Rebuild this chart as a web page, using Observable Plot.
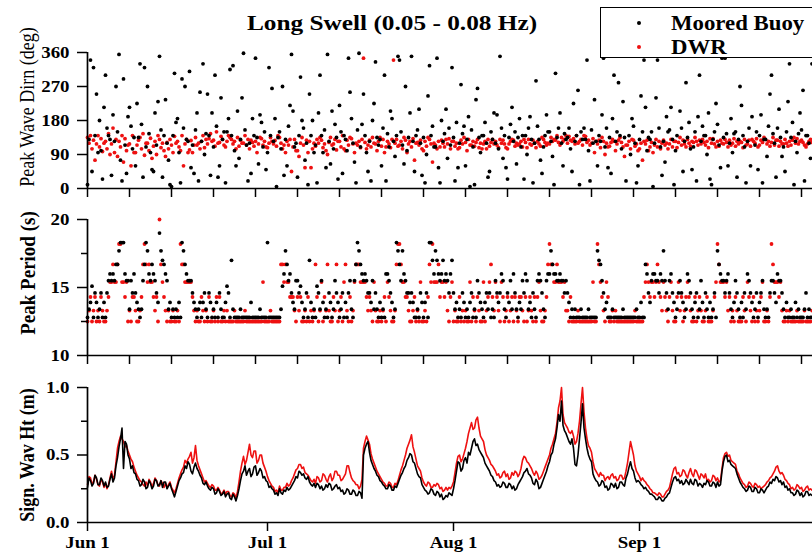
<!DOCTYPE html>
<html>
<head>
<meta charset="utf-8">
<script src="https://cdn.jsdelivr.net/npm/d3@7"></script>
<script src="https://cdn.jsdelivr.net/npm/@observablehq/plot@0.6"></script>
<style>
  html, body { margin: 0; padding: 0; background: #fff; }
  #wrap { position: relative; width: 812px; height: 555px; overflow: hidden; background: #fff;
          font-family: "Liberation Serif", "Times New Roman", serif; color: #000; }
  #wrap svg { position: absolute; left: 0; top: 0; }
  .txt { position: absolute; white-space: nowrap; line-height: 1; }
</style>
</head>
<body>
<div id="wrap"></div>
<script>
// ---------------- DATA ----------------
const START = Date.UTC(2013, 5, 1);          // Jun 1
const X_END = Date.UTC(2013, 8, 29, 20);     // right edge of the visible plot
const titleText = "Long Swell (0.05 - 0.08 Hz)";
const seriesNames = ["Moored Buoy", "DWR"];
const seriesColors = ["#000000", "#ee1111"];
const monthTicks = ["2013-06-01", "2013-07-01", "2013-08-01", "2013-09-01"];
const monthLabels = ["Jun 1", "Jul 1", "Aug 1", "Sep 1"];
const weekTickCount = 18;                     // unlabelled weekly ticks from Jun 1
const yTitles = ["Peak Wave Dirn (deg)", "Peak Period (s)", "Sign. Wav Ht (m)"];
const dirTicks = [0, 90, 180, 270, 360];
const perTicks = [10, 15, 20];
const perMinorTicks = [12.5, 17.5];
const hsTicks = [0, 0.5, 1.0];
const hsMinorTicks = [0.25, 0.75];

const dirStepHours = 6;
const perStepHours = 6;
const hsStepHours = 6;

// Peak wave direction (deg), Moored Buoy
const dirBuoy = [
10,130,340,45, 320,140,250,95, 180,100,25,215, 300,160,140,130, 35,195,125,270,
150,355,75,20, 290,115,40,190, 215,165,105,135, 60,225,135,330, 170,30,320,110,
270,145,95,50, 45,200,115,230, 350,155,30,140, 235,120,75,10, 5,140,305,175,
185,95,15,290, 160,270,130,125, 310,55,115,40, 155,200,20,255, 125,330,90,145,
250,140,35,200, 110,300,165,30, 60,240,130,150, 15,150,185,315, 140,325,100,60,
205,80,130,240, 358,155,115,20, 120,40,185,140, 345,135,65,195, 175,110,150,50,
95,320,140,265, 125,185,5,135, 150,105,270,35, 130,60,165,220, 355,205,110,120,
30,140,295,180, 160,75,120,10, 250,140,180,95, 115,15,200,300, 140,95,155,55,
355,125,65,205, 105,170,135,25, 220,150,40,140, 130,100,345,255, 185,120,70,15,
155,358,110,170, 250,140,95,45, 125,20,180,225, 335,135,115,130, 60,160,300,20,
145,110,205,185, 125,85,140,350, 340,150,115,65, 270,100,135,200, 350,125,45,140,
155,210,120,35, 135,15,90,245, 325,140,165,110, 110,345,55,15, 180,125,145,210,
80,160,115,320, 135,20,175,55, 120,275,145,165, 60,130,190,5, 155,110,10,235,
265,135,95,140, 140,175,120,30, 45,150,130,200, 120,195,105,350, 160,80,140,55,
25,135,170,215, 125,150,65,135, 185,110,140,25, 140,90,160,190, 130,15,120,285,
165,130,75,40, 110,140,195,150, 150,125,85,10, 305,135,160,200, 120,60,145,130,
135,160,105,45, 225,125,140,260, 10,150,130,160, 130,340,100,20, 155,120,235,125,
60,140,125,195, 345,110,160,55, 135,40,185,300, 125,150,280,140, 105,230,135,20,
355,140,90,185, 165,120,15,60, 130,245,150,340, 215,100,135,130, 150,5,120,240,
340,160,110,35, 125,70,190,150, 155,215,130,10, 100,140,355,205, 160,45,125,280,
135,175,105,50, 110,150,20,190, 300,125,165,140, 140,90,200,25, 10,130,150,225,
170,115,55,345, 135,345,145,60, 120,185,95,145, 150,30,130,270, 220,140,110,15,
125,160,60,190, 355,115,150,50, 140,195,15,130, 130,85,165,250, 300,145,120,30,
160,210,135,85, 110,45,150,230, 330,135,175,10, 125,95,145,200, 155,260,20,140,
140,120,80,330
];

// Peak wave direction (deg), DWR
const dirDWR = [
135,120,140,105, 128,75,118,140, 110,132,98,120, 125,105,145,90, 118,160,95,130,
85,125,110,140, 70,132,100,115, 118,60,140,95, 95,115,128,135, 105,145,88,120,
120,100,133,80, 112,125,90,140, 130,108,120,100, 85,122,105,130, 115,95,138,120,
125,110,100,140, 60,118,130,95, 102,127,95,115, 135,115,120,105, 125,140,108,130,
118,132,145,125, 128,112,150,120, 122,138,130,115, 110,125,140,135, 130,118,125,105,
135,112,128,120, 120,140,115,130, 105,128,122,112, 125,95,118,135, 132,115,125,110,
108,120,135,125, 118,127,112,140, 135,120,105,115, 95,125,115,130, 45,110,130,100,
100,85,120,135, 115,55,128,95, 125,55,105,120, 112,130,120,135, 128,108,118,100,
90,122,135,115, 118,130,102,125, 125,110,140,105, 100,128,115,135, 132,118,95,120,
115,125,108,130, 345,122,105,115, 128,110,135,120, 118,100,125,135, 112,130,95,110,
125,118,108,130, 340,120,130,112, 115,125,105,135, 128,95,118,125, 110,132,75,120,
122,115,128,105, 100,125,112,135, 130,118,70,120, 115,105,125,110, 128,120,110,130,
118,132,105,125, 125,112,120,105, 108,128,118,135, 122,100,130,115, 115,125,112,122,
130,108,120,105, 118,125,105,130, 112,122,130,118, 125,115,108,130, 120,128,118,108,
105,118,125,130, 128,112,120,115, 118,125,110,130, 122,108,130,118, 115,128,120,108,
125,118,112,135, 130,122,115,120, 118,135,125,130, 128,140,122,115, 135,125,130,140,
120,138,128,125, 132,118,140,120, 125,130,115,140, 138,122,128,115, 120,132,95,125,
118,128,108,135, 125,90,120,110, 112,122,130,125, 100,118,128,135, 122,110,85,115,
115,125,105,130, 128,112,118,100, 105,120,75,125, 118,128,100,110, 122,95,115,130,
110,125,105,120, 128,115,120,105, 118,130,110,125, 125,108,122,135, 115,128,118,110,
130,120,112,125, 122,135,125,115, 128,118,130,122, 115,125,108,132, 120,132,118,110,
125,112,128,120, 118,130,122,110, 128,115,120,132, 112,125,118,125, 122,108,130,115,
118,128,112,130, 125,120,132,110, 115,128,122,135, 130,118,125,112, 122,135,115,128,
128,112,125,118, 118,130,120,112, 125,115,128,135, 120,132,118,125, 128,122,115,110,
118,125,130,122
];

// Peak period (s), Moored Buoy
const perBuoy = [
12.8,13.4,13.9,15.1, 12.8,14.6,13.9,12.8, 13.4,14.6,12.8,13.9, 12.8,14.6,15.5,16.0,
15.5,16.0,15.5,16.7, 16.7,17.7,18.3,18.3, 18.3,16.0,15.5,15.5, 13.4,15.5,14.6,16.0,
14.6,13.9,13.4,12.8, 13.4,15.5,16.7,18.3, 17.7,16.0,15.5,16.7, 16.0,15.5,14.6,13.9,
19.0,17.7,17.0,16.7, 16.0,15.5,13.4,13.9, 12.8,13.4,12.8,13.4, 12.8,13.9,12.8,18.3,
17.7,16.7,16.0,15.5, 15.5,15.5,14.6,13.9, 13.4,12.8,13.4,13.9, 12.8,13.9,14.6,13.4,
12.8,14.6,13.9,12.8, 13.4,12.8,13.9,12.8, 14.6,13.4,12.8,12.8, 13.9,15.1,14.6,12.8,
17.0,13.4,12.8,12.8, 12.8,12.8,13.4,12.8, 12.8,12.8,12.8,12.8, 12.8,13.9,12.8,12.8,
12.8,12.8,12.8,13.4, 12.8,12.8,12.8,12.8, 18.3,12.8,12.8,12.8, 12.8,12.8,12.8,12.8,
12.8,13.4,15.1,16.0, 17.7,16.7,15.5,16.0, 14.6,13.9,13.4,15.5, 15.5,14.6,15.1,13.9,
12.8,13.4,14.6,12.8, 17.0,13.9,12.8,13.4, 12.8,15.1,14.6,13.4, 15.5,13.9,12.8,13.4,
12.8,14.6,13.9,12.8, 13.4,15.5,14.6,13.9, 12.8,13.4,14.6,12.8, 13.9,12.8,14.6,15.5,
13.4,12.8,15.5,16.7, 18.3,17.7,16.7,16.0, 15.5,16.0,15.5,14.6, 14.6,13.9,15.5,13.4,
14.6,13.4,12.8,13.9, 12.8,13.4,12.8,16.0, 16.0,15.5,14.6,13.9, 12.8,13.4,18.3,17.7,
16.7,15.5,17.7,16.0, 15.5,14.6,14.6,13.9, 14.6,13.9,12.8,12.8, 13.4,12.8,14.6,13.9,
12.8,13.9,14.6,12.8, 18.3,18.3,17.0,16.0, 17.7,17.0,16.0,15.5, 16.0,17.0,15.5,16.0,
15.5,14.6,16.0,17.0, 14.6,13.4,13.9,12.8, 13.4,12.8,14.6,13.9, 12.8,13.4,12.8,13.9,
14.6,12.8,13.4,12.8, 15.5,14.6,13.9,13.4, 12.8,13.9,14.6,13.4, 14.6,12.8,13.4,12.8,
15.5,14.6,13.9,14.6, 16.0,15.5,13.4,12.8, 14.6,13.9,15.5,13.4, 16.0,14.6,13.4,12.8,
13.9,13.4,15.5,14.6, 16.0,15.5,13.4,13.9, 12.8,14.6,13.4,12.8, 15.5,16.0,15.5,14.6,
13.4,12.8,15.5,16.0, 16.0,17.7,16.7,16.0, 16.0,15.5,15.5,16.0, 15.5,15.5,14.6,15.5,
14.6,13.9,12.8,13.4, 12.8,13.4,12.8,12.8, 12.8,13.4,12.8,12.8, 12.8,12.8,13.4,12.8,
12.8,12.8,12.8,12.8, 17.7,17.0,16.7,15.5, 14.6,13.4,13.9,12.8, 12.8,12.8,13.4,12.8,
12.8,12.8,12.8,12.8, 12.8,13.4,12.8,12.8, 12.8,12.8,12.8,12.8, 12.8,12.8,13.4,12.8,
12.8,13.9,12.8,12.8, 16.7,16.0,14.6,13.9, 15.5,16.0,16.0,15.5, 15.5,14.6,16.0,15.5,
17.7,15.5,14.6,13.4, 15.5,16.0,14.6,13.9, 12.8,13.4,14.6,15.5, 14.6,13.9,12.8,13.4,
16.0,15.5,14.6,13.4, 12.8,13.9,14.6,12.8, 13.4,15.5,13.9,12.8, 14.6,13.4,12.8,13.9,
12.8,13.4,14.6,12.8, 17.7,16.7,16.0,15.5, 15.5,14.6,15.5,16.0, 14.6,13.4,12.8,13.9,
15.5,14.6,13.4,12.8, 13.9,12.8,14.6,13.4, 16.0,15.5,14.6,13.9, 12.8,13.4,14.6,12.8,
13.9,14.6,15.5,13.4, 12.8,13.4,12.8,14.6, 15.5,15.5,14.6,13.9, 16.0,15.5,15.5,14.6,
13.4,12.8,13.9,12.8, 12.8,13.4,12.8,12.8, 13.9,12.8,13.4,12.8, 12.8,12.8,13.4,14.6,
12.8,13.4,12.8,12.8
];

// Peak period (s), DWR
const perDWR = [
12.5,13.3,14.3,12.5, 13.3,14.3,12.5,13.3, 12.5,14.3,13.3,12.5, 12.5,13.3,14.3,15.4,
15.4,16.7,15.4,15.4, 16.7,18.2,18.2,15.4, 15.4,14.3,15.4,12.5, 13.3,12.5,14.3,14.3,
13.3,12.5,12.5,13.3, 14.3,16.7,18.2,16.7, 15.4,16.7,15.4,15.4, 14.3,13.3,14.3,12.5,
20.0,16.7,15.4,14.3, 13.3,12.5,13.3,12.5, 12.5,13.3,12.5,12.5, 13.3,12.5,18.2,16.7,
16.7,15.4,15.4,15.4, 15.4,15.4,14.3,13.3, 12.5,13.3,12.5,12.5, 14.3,13.3,12.5,13.3,
12.5,14.3,12.5,12.5, 13.3,12.5,14.3,12.5, 14.3,12.5,12.5,13.3, 12.5,13.3,12.5,12.5,
12.5,12.5,13.3,12.5, 12.5,12.5,12.5,12.5, 12.5,13.3,12.5,12.5, 12.5,12.5,12.5,12.5,
12.5,12.5,12.5,12.5, 12.5,15.4,12.5,12.5, 12.5,12.5,13.3,12.5, 12.5,12.5,12.5,12.5,
12.5,16.7,16.7,15.4, 16.7,15.4,15.4,14.3, 14.3,14.3,13.3,12.5, 14.3,13.3,14.3,12.5,
12.5,13.3,12.5,14.3, 12.5,13.3,12.5,13.3, 16.7,14.3,12.5,13.3, 15.4,12.5,14.3,13.3,
16.7,13.3,12.5,12.5, 14.3,13.3,16.7,12.5, 13.3,14.3,12.5,15.4, 16.7,13.3,12.5,14.3,
12.5,13.3,15.4,16.7, 16.7,16.7,15.4,15.4, 15.4,15.4,14.3,13.3, 14.3,13.3,12.5,15.4,
13.3,12.5,12.5,13.3, 12.5,13.3,14.3,12.5, 15.4,14.3,13.3,12.5, 12.5,13.3,16.7,18.2,
18.2,16.7,15.4,15.4, 14.3,14.3,13.3,12.5, 12.5,13.3,14.3,12.5, 13.3,12.5,15.4,12.5,
12.5,13.3,12.5,14.3, 16.7,15.4,18.2,15.4, 15.4,15.4,16.7,14.3, 15.4,15.4,14.3,15.4,
13.3,12.5,14.3,15.4, 12.5,13.3,12.5,12.5, 14.3,12.5,13.3,12.5, 13.3,12.5,12.5,15.4,
12.5,14.3,13.3,12.5, 14.3,13.3,12.5,12.5, 15.4,12.5,13.3,14.3, 15.4,16.7,14.3,13.3,
15.4,14.3,13.3,12.5, 15.4,14.3,12.5,13.3, 14.3,12.5,13.3,14.3, 12.5,14.3,13.3,12.5,
14.3,14.3,13.3,12.5, 14.3,12.5,13.3,14.3, 13.3,12.5,14.3,12.5, 14.3,15.4,13.3,12.5,
12.5,13.3,14.3,16.7, 18.2,16.7,16.7,15.4, 15.4,16.7,15.4,15.4, 15.4,14.3,15.4,13.3,
13.3,12.5,14.3,12.5, 12.5,12.5,12.5,13.3, 12.5,12.5,12.5,12.5, 12.5,12.5,12.5,12.5,
12.5,15.4,12.5,12.5, 18.2,16.7,15.4,14.3, 13.3,12.5,15.4,14.3, 12.5,12.5,13.3,12.5,
13.3,12.5,12.5,12.5, 12.5,12.5,12.5,12.5, 12.5,12.5,12.5,12.5, 12.5,13.3,12.5,12.5,
12.5,12.5,12.5,14.3, 15.4,16.7,15.4,14.3, 15.4,15.4,14.3,15.4, 16.7,15.4,14.3,13.3,
15.4,14.3,13.3,12.5, 14.3,15.4,13.3,12.5, 12.5,14.3,15.4,13.3, 14.3,12.5,13.3,14.3,
15.4,14.3,13.3,12.5, 12.5,14.3,12.5,13.3, 14.3,13.3,12.5,12.5, 13.3,14.3,12.5,12.5,
12.5,13.3,14.3,15.4, 18.2,16.7,15.4,15.4, 15.4,14.3,15.4,13.3, 14.3,12.5,13.3,12.5,
14.3,13.3,12.5,12.5, 12.5,14.3,13.3,12.5, 15.4,14.3,13.3,12.5, 14.3,12.5,13.3,12.5,
13.3,14.3,15.4,12.5, 12.5,13.3,12.5,14.3, 18.2,16.7,15.4,15.4, 15.4,14.3,15.4,13.3,
12.5,12.5,13.3,12.5, 13.3,12.5,12.5,12.5, 12.5,13.3,12.5,12.5, 12.5,12.5,13.3,12.5,
12.5,12.5,12.5,13.3
];

// Significant wave height (m), Moored Buoy
const hsBuoy = [
.26,.33,.31,.27, .29,.35,.33,.28, .28,.33,.31,.27, .30,.26,.27,.32, .36,.30,.33,.42,
.48,.56,.62,.70, .40,.60,.58,.50, .47,.40,.42,.37, .36,.32,.31,.27, .28,.32,.30,.25,
.26,.31,.29,.25, .27,.32,.31,.27, .28,.31,.26,.30, .30,.25,.27,.29, .25,.22,.19,.23,
.27,.31,.33,.36, .37,.42,.40,.45, .43,.38,.36,.41, .44,.40,.38,.35, .33,.29,.28,.30,
.27,.25,.24,.26, .25,.21,.22,.25, .23,.20,.21,.23, .19,.21,.22,.18, .17,.21,.19,.16,
.20,.25,.31,.36, .38,.42,.35,.38, .40,.34,.36,.41, .42,.35,.37,.40, .38,.33,.34,.31,
.30,.26,.27,.25, .24,.21,.22,.20, .25,.22,.21,.24, .23,.26,.24,.25, .27,.29,.31,.34,
.33,.38,.37,.35, .36,.33,.32,.34, .30,.28,.27,.29, .26,.29,.28,.25, .27,.24,.25,.28,
.26,.29,.28,.24, .25,.27,.28,.25, .26,.23,.24,.21, .22,.25,.24,.21, .21,.24,.23,.20,
.20,.23,.22,.18, .50,.55,.58,.60, .52,.46,.43,.40, .38,.35,.34,.31, .30,.28,.27,.25,
.25,.28,.27,.24, .24,.27,.26,.29, .32,.35,.37,.40, .42,.46,.48,.51, .50,.45,.44,.40,
.36,.34,.33,.28, .26,.24,.23,.21, .22,.25,.24,.21, .20,.23,.22,.19, .21,.17,.18,.20,
.19,.22,.21,.20, .25,.31,.38,.45, .44,.38,.40,.46, .48,.44,.52,.50, .55,.60,.62,.57,
.58,.54,.52,.50, .48,.44,.42,.40, .38,.35,.34,.31, .30,.27,.28,.26, .27,.30,.29,.26,
.26,.29,.28,.25, .27,.24,.25,.28, .30,.32,.34,.37, .38,.40,.36,.35, .33,.29,.28,.32,
.30,.25,.26,.29, .32,.35,.38,.42, .45,.50,.52,.58, .62,.70,.80,.75, .90,.72,.68,.66,
.63,.60,.58,.62, .55,.43,.42,.50, .62,.74,.88,.70, .62,.55,.50,.47, .45,.36,.33,.31,
.30,.27,.28,.31, .30,.26,.27,.24, .25,.29,.28,.26, .29,.25,.26,.30, .30,.28,.27,.33,
.36,.41,.45,.40, .38,.33,.30,.31, .30,.28,.27,.25, .26,.24,.23,.21, .21,.20,.19,.17,
.17,.19,.18,.16, .16,.18,.19,.21, .22,.26,.30,.33, .34,.31,.32,.29, .31,.28,.29,.32,
.30,.28,.32,.29, .28,.32,.31,.27, .29,.28,.26,.29, .28,.31,.30,.27, .27,.30,.29,.26,
.30,.27,.28,.38, .45,.49,.50,.45, .46,.43,.42,.41, .40,.36,.33,.30, .28,.26,.25,.23,
.24,.27,.26,.23, .23,.26,.25,.22, .22,.25,.24,.22, .24,.26,.27,.30, .29,.32,.31,.34,
.33,.30,.31,.28, .30,.26,.27,.24, .25,.22,.22,.20, .21,.24,.23,.20, .22,.19,.20,.23,
.23,.20,.21,.20
];

// Significant wave height (m), DWR
const hsDWR = [
.28,.34,.33,.29, .30,.35,.32,.28, .27,.32,.30,.26, .29,.25,.28,.33, .38,.32,.35,.45,
.55,.60,.64,.62, .60,.56,.57,.53, .50,.47,.45,.41, .38,.35,.33,.31, .30,.28,.27,.30,
.27,.32,.30,.26, .29,.33,.31,.28, .27,.31,.29,.26, .29,.26,.28,.30, .26,.24,.22,.25,
.29,.33,.36,.39, .41,.46,.44,.47, .49,.52,.44,.48, .57,.46,.42,.39, .36,.33,.30,.31,
.29,.27,.26,.28, .27,.24,.24,.26, .24,.21,.22,.24, .21,.23,.23,.20, .19,.22,.21,.18,
.23,.30,.38,.44, .49,.43,.46,.52, .58,.50,.48,.53, .53,.44,.46,.50, .50,.44,.41,.38,
.34,.31,.29,.27, .26,.23,.24,.22, .27,.24,.24,.26, .26,.29,.27,.28, .31,.33,.36,.39,
.40,.43,.43,.40, .41,.37,.36,.35, .33,.31,.30,.32, .29,.34,.33,.30, .31,.36,.35,.32,
.30,.34,.36,.31, .33,.38,.38,.35, .35,.31,.32,.34, .36,.42,.42,.37, .33,.31,.30,.28,
.28,.25,.27,.32, .55,.60,.64,.61, .58,.51,.47,.44, .41,.38,.36,.34, .32,.30,.29,.27,
.27,.30,.29,.26, .26,.29,.28,.31, .35,.39,.42,.46, .50,.55,.58,.61, .65,.56,.52,.47,
.42,.40,.38,.33, .30,.28,.27,.30, .29,.26,.26,.28, .27,.29,.28,.25, .26,.23,.24,.26,
.24,.26,.25,.27, .30,.37,.44,.49, .50,.45,.47,.51, .55,.60,.66,.70, .74,.69,.70,.76,
.78,.70,.64,.62, .60,.54,.50,.48, .46,.43,.42,.40, .38,.35,.36,.33, .34,.37,.38,.34,
.36,.32,.33,.37, .35,.38,.37,.34, .36,.40,.46,.49, .48,.45,.44,.42, .40,.37,.35,.38,
.36,.32,.33,.35, .38,.41,.44,.47, .50,.55,.58,.62, .66,.74,.85,.90, 1.00,.80,.74,.72,
.70,.67,.66,.68, .64,.58,.60,.66, .75,.88,1.00,.82, .70,.62,.57,.55, .52,.45,.40,.38,
.36,.34,.37,.35, .35,.31,.33,.34, .32,.35,.36,.33, .34,.31,.32,.35, .35,.32,.33,.38,
.44,.52,.60,.55, .50,.42,.38,.36, .34,.31,.33,.31, .30,.28,.27,.25, .24,.22,.22,.21,
.20,.22,.21,.19, .19,.21,.23,.24, .26,.31,.36,.40, .41,.36,.37,.34, .35,.39,.38,.35,
.33,.37,.40,.36, .34,.39,.38,.35, .32,.36,.35,.33, .36,.31,.32,.30, .31,.35,.34,.31,
.33,.30,.31,.40, .48,.51,.52,.49, .50,.46,.45,.44, .43,.38,.36,.33, .31,.29,.28,.26,
.27,.30,.29,.27, .26,.29,.28,.26, .27,.25,.26,.27, .28,.30,.31,.33, .34,.36,.38,.41,
.42,.38,.36,.37, .35,.32,.31,.29, .28,.25,.26,.24, .25,.28,.27,.25, .26,.23,.24,.26,
.27,.24,.25,.24
];

// ---------------- BUILD ----------------
const HOUR = 3600000;
const rows = (vals, stepH) => vals.map((v, i) => ({ t: new Date(START + i * stepH * HOUR), v }));
const xDomain = [new Date(START), new Date(X_END)];
const weekTicks = Array.from({ length: weekTickCount }, (_, k) => d3.utcDay.offset(new Date(START), 7 * k));
const monthTickDates = monthTicks.map(s => new Date(s + "T00:00:00Z"));
const monthLabelOf = new Map(monthTickDates.map((d, i) => [+d, monthLabels[i]]));
const FONT = '"Liberation Serif", "Times New Roman", serif';
const W = 812, H = 555;

function panel({ top, bottom, yDomain, yTicks, yMinor, yFormat, xTicks, xFormat, marks }) {
  const axisMarks = [
    Plot.ruleX([xDomain[0]], { y1: yDomain[0], y2: yDomain[1], strokeWidth: 1.7, stroke: "#000" }),
    Plot.ruleY([yDomain[0]], { strokeWidth: 1.7, stroke: "#000" }),
    Plot.axisY({ ticks: yTicks, tickSize: 10, tickPadding: 8, tickFormat: yFormat, label: null,
                 strokeWidth: 1.5, fontSize: 16, fontWeight: "bold" }),
    Plot.axisX({ ticks: xTicks, tickSize: 9, tickPadding: 5, tickFormat: xFormat, label: null,
                 strokeWidth: 1.5, fontSize: 16, fontWeight: "bold" })
  ];
  if (yMinor) axisMarks.push(Plot.axisY({ ticks: yMinor, tickSize: 6, tickFormat: () => "", label: null, strokeWidth: 1.5 }));
  return Plot.plot({
    width: W, height: H,
    marginLeft: 87, marginRight: 0, marginTop: top, marginBottom: H - bottom,
    x: { type: "utc", domain: xDomain },
    y: { domain: yDomain },
    style: { background: "transparent", overflow: "visible", fontFamily: FONT, color: "#000" },
    marks: [...marks, ...axisMarks]
  });
}

const [cBuoy, cDWR] = seriesColors;
const R = 1.9;

const p1 = panel({
  top: 52, bottom: 188, yDomain: [0, 360], yTicks: dirTicks, yFormat: d => String(d),
  xTicks: weekTicks, xFormat: () => "",
  marks: [
    Plot.dot(rows(dirDWR, dirStepHours), { x: "t", y: "v", r: R, fill: cDWR, stroke: "none" }),
    Plot.dot(rows(dirBuoy, dirStepHours), { x: "t", y: "v", r: R, fill: cBuoy, stroke: "none" })
  ]
});
const p2 = panel({
  top: 219, bottom: 355, yDomain: [10, 20], yTicks: perTicks, yMinor: perMinorTicks, yFormat: d => String(d),
  xTicks: weekTicks, xFormat: () => "",
  marks: [
    Plot.dot(rows(perDWR, perStepHours), { x: "t", y: "v", r: R, fill: cDWR, stroke: "none" }),
    Plot.dot(rows(perBuoy, perStepHours), { x: "t", y: "v", r: R, fill: cBuoy, stroke: "none" })
  ]
});
const p3 = panel({
  top: 387, bottom: 522, yDomain: [0, 1], yTicks: hsTicks, yMinor: hsMinorTicks, yFormat: d3.format(".1f"),
  xTicks: monthTickDates, xFormat: d => monthLabelOf.get(+d),
  marks: [
    Plot.line(rows(hsDWR, hsStepHours), { x: "t", y: "v", stroke: cDWR, strokeWidth: 1.6 }),
    Plot.line(rows(hsBuoy, hsStepHours), { x: "t", y: "v", stroke: cBuoy, strokeWidth: 1.6 })
  ]
});

const wrap = document.getElementById("wrap");
for (const p of [p1, p2, p3]) wrap.appendChild(p);

// the reference typography is horizontally wide: stretch tick labels a little
for (const t of wrap.querySelectorAll('g[aria-label$="tick label"] text')) {
  const w = t.getComputedTextLength();
  if (w > 0) { t.setAttribute("textLength", (w * 1.18).toFixed(1)); t.setAttribute("lengthAdjust", "spacingAndGlyphs"); }
}

function addText(text, css) {
  const d = document.createElement("div");
  d.className = "txt";
  d.textContent = text;
  Object.assign(d.style, css);
  wrap.appendChild(d);
  return d;
}

// y-axis titles
const yTitlePos = [[27, 107, "normal", 18], [28, 273, "bold", 19], [27, 455, "bold", 18]];
yTitles.forEach((s, i) => {
  const [x, y, wgt, fs] = yTitlePos[i];
  addText(s, { left: x + "px", top: y + "px", fontSize: fs + "px", fontWeight: wgt,
               transform: "translate(-50%,-50%) rotate(-90deg) scaleY(1.15)" });
});

// title
addText(titleText, { left: "392px", top: "23px", fontSize: "22px", fontWeight: "bold",
                     transform: "translate(-50%,-50%) scaleX(1.15)" });

// legend
const box = document.createElement("div");
Object.assign(box.style, { position: "absolute", left: "600px", top: "7px", width: "240px", height: "49px",
                           border: "1.5px solid #000", background: "#fff" });
wrap.appendChild(box);
const legendY = [23, 47];
seriesNames.forEach((name, i) => {
  const dot = document.createElement("div");
  Object.assign(dot.style, { position: "absolute", left: "637px", top: (legendY[i] - 2) + "px",
                             width: "4px", height: "4px", borderRadius: "50%", background: seriesColors[i] });
  wrap.appendChild(dot);
  addText(name, { left: "671px", top: legendY[i] + "px", fontSize: "20px", fontWeight: "bold",
                  transform: "translateY(-50%) scaleX(1.14)", transformOrigin: "left center" });
});
</script>
</body>
</html>
